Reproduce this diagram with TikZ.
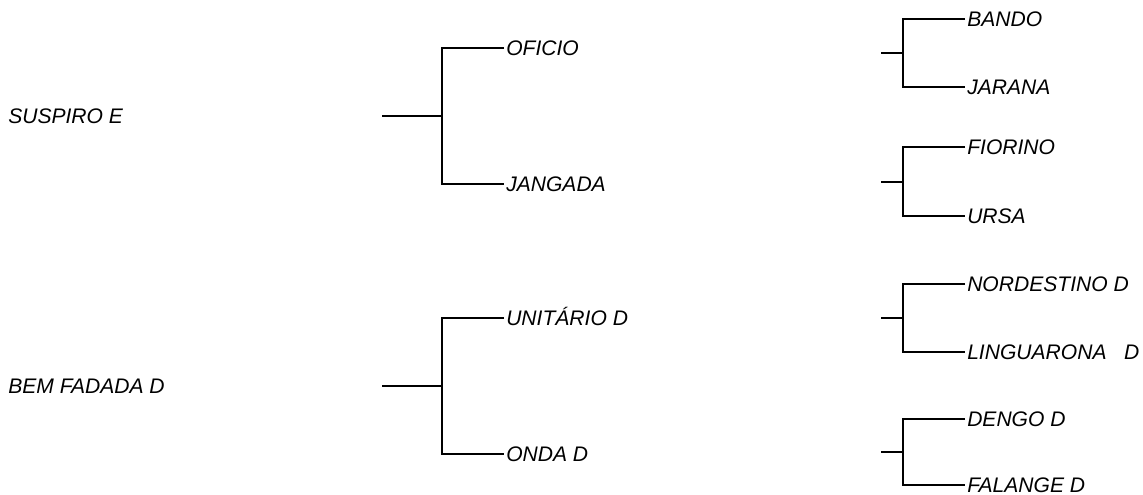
\documentclass[tikz,border=0pt]{standalone}
\usepackage{fontspec}
\setmainfont{Liberation Sans}
\begin{document}
\begin{tikzpicture}[x=0.75pt,y=-0.75pt,
  lbl/.style={anchor=west,inner ysep=0pt,inner xsep=1.5pt,font=\itshape\fontsize{15.8pt}{18pt}\selectfont,text height=11.3pt,text depth=0pt},
  br/.style={line width=1.8pt}]
\useasboundingbox (0,0) rectangle (1143,495);
% left labels
\node[lbl,inner xsep=0pt] (suspiro) at (8,116) {SUSPIRO E};
\node[lbl,inner xsep=0pt] (bem) at (8,386) {BEM FADADA D};
% middle bracket 1
\coordinate (m1s) at (382,116);
\coordinate (m1j) at (442,116);
\node[lbl] (oficio) at (504,48) {OFICIO};
\node[lbl] (jangada) at (504,184) {JANGADA};
\draw[br] (m1s) -- (m1j);
\draw[br] (oficio.west) -| (m1j) |- (jangada.west);
% middle bracket 2
\coordinate (m2s) at (382,386);
\coordinate (m2j) at (442,386);
\node[lbl] (unitario) at (504,318) {UNITÁRIO D};
\node[lbl] (onda) at (504,454) {ONDA D};
\draw[br] (m2s) -- (m2j);
\draw[br] (unitario.west) -| (m2j) |- (onda.west);
% right brackets
\coordinate (r1s) at (881,53);
\coordinate (r1j) at (903,53);
\node[lbl] (bando) at (965,19) {BANDO};
\node[lbl] (jarana) at (965,87) {JARANA};
\draw[br] (r1s) -- (r1j);
\draw[br] (bando.west) -| (r1j) |- (jarana.west);
\coordinate (r2s) at (881,182);
\coordinate (r2j) at (903,182);
\node[lbl] (fiorino) at (965,147) {FIORINO};
\node[lbl] (ursa) at (965,216) {URSA};
\draw[br] (r2s) -- (r2j);
\draw[br] (fiorino.west) -| (r2j) |- (ursa.west);
\coordinate (r3s) at (881,318);
\coordinate (r3j) at (903,318);
\node[lbl] (nordestino) at (965,284) {NORDESTINO D};
\node[lbl] (linguarona) at (965,352) {LINGUARONA\ \ \ D};
\draw[br] (r3s) -- (r3j);
\draw[br] (nordestino.west) -| (r3j) |- (linguarona.west);
\coordinate (r4s) at (881,452);
\coordinate (r4j) at (903,452);
\node[lbl] (dengo) at (965,419) {DENGO D};
\node[lbl] (falange) at (965,485) {FALANGE D};
\draw[br] (r4s) -- (r4j);
\draw[br] (dengo.west) -| (r4j) |- (falange.west);
\end{tikzpicture}
\end{document}
